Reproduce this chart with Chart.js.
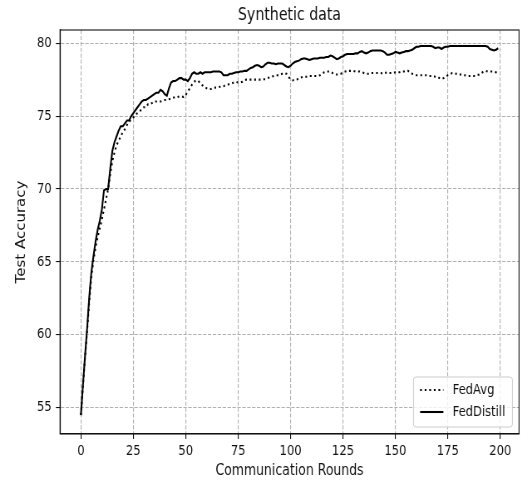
<!DOCTYPE html>
<html>
<head>
<meta charset="utf-8">
<script src="https://cdn.jsdelivr.net/npm/chart.js@4.4.1/dist/chart.umd.min.js"></script>
<style>
html,body{margin:0;padding:0;background:#fff;overflow:hidden;}
#wrap{width:640px;height:483px;transform:scaleX(0.83125);transform-origin:0 0;}
</style>
</head>
<body>
<div id="wrap"><canvas id="c" width="640" height="483"></canvas></div>
<script>
const chartTitle = "Synthetic data";
const xLabel = "Communication Rounds";
const yLabel = "Test Accuracy";
const seriesNames = ["FedAvg", "FedDistill"];
const xTicks = [0, 25, 50, 75, 100, 125, 150, 175, 200];
const yTicks = [55, 60, 65, 70, 75, 80];
const rounds = Array.from({length: 200}, (_, i) => i);

const fedAvg = [
54.5,56.5,58.5,60.3,62.3,64.0,65.1,66.0,66.7,67.3,
67.9,68.6,69.3,70.0,71.0,71.9,72.5,73.0,73.3,73.6,
73.9,74.1,74.4,74.6,74.8,74.9,75.1,75.2,75.3,75.5,
75.6,75.6,75.8,75.8,75.9,76.0,76.0,76.0,76.0,76.05,
76.1,76.1,76.15,76.2,76.25,76.3,76.3,76.35,76.35,76.3,
76.45,76.7,76.9,77.15,77.35,77.45,77.4,77.25,77.1,77.0,
76.9,76.85,76.85,76.9,76.95,76.95,77.0,77.05,77.05,77.1,
77.15,77.2,77.25,77.3,77.35,77.3,77.3,77.35,77.45,77.5,
77.5,77.5,77.5,77.5,77.5,77.5,77.5,77.5,77.55,77.6,
77.65,77.7,77.75,77.8,77.8,77.85,77.9,77.95,77.9,77.7,
77.5,77.45,77.45,77.5,77.6,77.65,77.7,77.7,77.7,77.75,
77.75,77.75,77.75,77.75,77.8,77.9,78.0,78.05,78.05,78.05,
77.95,77.9,77.85,77.85,77.9,78.0,78.05,78.1,78.1,78.1,
78.1,78.05,78.05,78.05,78.0,77.95,77.9,77.9,77.95,77.95,
77.95,77.95,77.95,77.95,77.9,77.95,78.0,77.95,77.95,77.95,
78.0,78.0,78.0,78.05,78.05,78.1,78.1,78.0,77.9,77.85,
77.8,77.8,77.8,77.8,77.8,77.8,77.75,77.75,77.75,77.7,
77.7,77.6,77.55,77.6,77.7,77.8,77.85,77.95,77.95,77.9,
77.9,77.85,77.8,77.8,77.75,77.75,77.75,77.75,77.75,77.8,
77.85,77.95,78.05,78.1,78.05,78.05,78.05,78.05,78.0,78.05
];

const fedDistill = [
54.5,56.6,58.6,60.5,62.6,64.3,65.4,66.4,67.2,67.8,
68.6,69.9,70.0,70.0,71.4,72.6,73.2,73.6,74.0,74.3,
74.3,74.5,74.7,74.7,75.0,75.2,75.4,75.6,75.8,76.0,
76.1,76.1,76.2,76.3,76.4,76.5,76.6,76.6,76.8,76.7,
76.5,76.4,76.9,77.3,77.4,77.4,77.5,77.6,77.6,77.5,
77.5,77.4,77.6,77.9,78.0,77.9,77.9,78.0,77.9,78.0,
78.0,78.0,78.0,78.05,78.05,78.05,78.05,78.0,77.8,77.8,
77.8,77.9,77.9,77.95,78.0,78.0,78.05,78.05,78.1,78.1,
78.2,78.3,78.35,78.45,78.5,78.45,78.35,78.4,78.55,78.65,
78.65,78.6,78.6,78.55,78.6,78.6,78.6,78.5,78.4,78.35,
78.45,78.6,78.7,78.75,78.8,78.9,78.95,78.95,78.9,78.85,
78.9,78.95,78.95,78.95,79.0,79.0,79.0,79.05,79.05,79.15,
79.1,79.0,78.9,78.95,79.05,79.1,79.2,79.25,79.25,79.25,
79.25,79.3,79.3,79.4,79.45,79.35,79.3,79.35,79.45,79.5,
79.5,79.5,79.5,79.5,79.45,79.35,79.2,79.2,79.25,79.3,
79.4,79.35,79.3,79.35,79.4,79.45,79.45,79.5,79.55,79.65,
79.75,79.75,79.8,79.8,79.8,79.8,79.8,79.8,79.75,79.65,
79.7,79.7,79.6,79.7,79.75,79.75,79.8,79.8,79.8,79.8,
79.8,79.8,79.8,79.8,79.8,79.8,79.8,79.8,79.8,79.8,
79.8,79.8,79.8,79.8,79.75,79.6,79.55,79.5,79.55,79.65
];

const FONT = "'DejaVu Sans', sans-serif";
const TXT = '#111';
const DASHES = [[2.1, 3.4], []];

const framePlugin = {
  id: 'frame',
  afterDraw(chart) {
    const {ctx, chartArea: a} = chart;
    ctx.save();
    ctx.strokeStyle = '#111';
    ctx.lineWidth = 1.1;
    ctx.setLineDash([]);
    ctx.strokeRect(a.left, a.top, a.right - a.left, a.bottom - a.top);
    // title
    ctx.fillStyle = TXT;
    ctx.font = "17px " + FONT;
    ctx.textAlign = 'center';
    ctx.textBaseline = 'alphabetic';
    ctx.fillText(chartTitle, (a.left + a.right) / 2, 19.5);
    // legend
    const bw = 119, bh = 50;
    const bx = a.right - 8 - bw, by = a.bottom - 7 - bh;
    ctx.beginPath();
    if (ctx.roundRect) ctx.roundRect(bx, by, bw, bh, 3); else ctx.rect(bx, by, bw, bh);
    ctx.fillStyle = 'rgba(255,255,255,0.8)';
    ctx.fill();
    ctx.strokeStyle = '#cccccc';
    ctx.lineWidth = 1;
    ctx.stroke();
    ctx.font = "13.9px " + FONT;
    ctx.textAlign = 'left';
    ctx.textBaseline = 'middle';
    for (let i = 0; i < 2; i++) {
      const ly = by + 13 + i * 22;
      ctx.beginPath();
      ctx.setLineDash(DASHES[i]);
      ctx.lineWidth = 2.08;
      ctx.strokeStyle = '#000';
      ctx.moveTo(bx + 8, ly);
      ctx.lineTo(bx + 36, ly);
      ctx.stroke();
      ctx.setLineDash([]);
      ctx.fillStyle = TXT;
      ctx.fillText(seriesNames[i], bx + 47, ly);
    }
    ctx.restore();
  }
};

const gridOpts = {color: '#b0b0b0', lineWidth: 1.1, tickLength: 5, tickColor: '#111', tickBorderDash: [], tickWidth: 1.1};
const borderOpts = {display: true, color: '#111', width: 1.1, dash: [4.1, 1.8]};

new Chart(document.getElementById('c'), {
  type: 'line',
  data: {
    datasets: [
      {
        label: seriesNames[0],
        data: rounds.map((r, i) => ({x: r, y: fedAvg[i]})),
        borderColor: '#000',
        borderWidth: 2.08,
        borderDash: DASHES[0],
        pointRadius: 0,
        fill: false,
        tension: 0
      },
      {
        label: seriesNames[1],
        data: rounds.map((r, i) => ({x: r, y: fedDistill[i]})),
        borderColor: '#000',
        borderWidth: 2.08,
        pointRadius: 0,
        fill: false,
        tension: 0
      }
    ]
  },
  options: {
    responsive: false,
    animation: false,
    devicePixelRatio: 1,
    layout: {padding: {left: 0, right: 15.6, top: 30, bottom: 0}},
    plugins: {legend: {display: false}, title: {display: false}, tooltip: {enabled: false}},
    scales: {
      x: {
        type: 'linear',
        min: -9.95,
        max: 208.95,
        afterBuildTicks(s) { s.ticks = xTicks.map(v => ({value: v})); },
        afterFit(s) { s.height = 49; },
        grid: gridOpts,
        border: borderOpts,
        ticks: {color: TXT, font: {family: FONT, size: 13.9}, padding: 4, maxRotation: 0, autoSkip: false},
        title: {display: true, text: xLabel, color: TXT, font: {family: FONT, size: 15}, padding: {top: 0, bottom: 3}}
      },
      y: {
        type: 'linear',
        min: 53.2,
        max: 80.9,
        afterBuildTicks(s) { s.ticks = yTicks.map(v => ({value: v})); },
        afterFit(s) { s.width = 72.2; },
        grid: gridOpts,
        border: borderOpts,
        ticks: {color: TXT, font: {family: FONT, size: 13.9}, padding: 5, autoSkip: false},
        title: {display: true, text: yLabel, color: TXT, font: {family: FONT, size: 15}, padding: {top: 17.5, bottom: 0}}
      }
    }
  },
  plugins: [framePlugin]
});
</script>
</body>
</html>
